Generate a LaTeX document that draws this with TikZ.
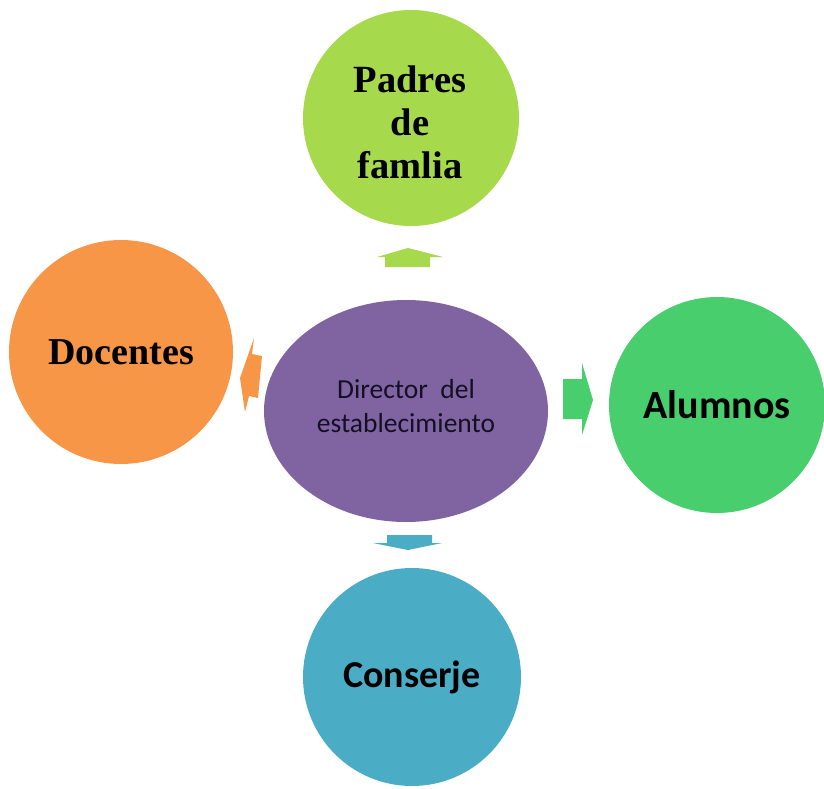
\documentclass[tikz,border=0pt]{standalone}
\usepackage{fontspec}
\setmainfont{Liberation Serif}
\newfontfamily\calib{Carlito}
\usetikzlibrary{shapes.geometric}
\definecolor{cPad}{RGB}{166,217,76}
\definecolor{cDoc}{RGB}{247,150,70}
\definecolor{cDir}{RGB}{128,100,162}
\definecolor{cAlu}{RGB}{72,206,108}
\definecolor{cCon}{RGB}{75,172,198}
\definecolor{cTxt}{RGB}{20,15,35}
\tikzset{
  bubble/.style={circle, inner sep=0pt, align=center},
  serifbold/.style={font=\fontsize{38.5}{43}\selectfont\bfseries},
  sansbold/.style={font=\calib\fontsize{40}{46}\selectfont\bfseries},
}
\begin{document}
\begin{tikzpicture}[x=1pt,y=-1pt]
\useasboundingbox (0,0) rectangle (824,789);
\node[bubble, fill=cPad, minimum size=216pt] (padres) at (411,118) {};
\node[align=center, inner sep=0pt, serifbold] (padrestxt) at (410,122) {Padres\\de\\famlia};
\node[bubble, fill=cDoc, minimum size=224pt, serifbold, font=\fontsize{38}{43}\selectfont\bfseries] (docentes) at (121,352) {Docentes};
\node[ellipse, inner sep=0pt, fill=cDir, minimum width=284pt, minimum height=222pt] (director) at (406,411) {};
\node[align=center, inner sep=0pt, text=cTxt, font=\calib\fontsize{27.5}{34}\selectfont] (directortxt) at (406,406) {Director\ \ del\\establecimiento};
\node[bubble, fill=cAlu, minimum size=216pt, sansbold] (alumnos) at (717,405) {Alumnos};
\node[bubble, fill=cCon, minimum size=218pt, sansbold, font=\calib\fontsize{38}{44}\selectfont\bfseries] (conserje) at (412,677) {Conserje};
% block arrows
\fill[cPad] (385,267) -- (385,257) -- (377,257) -- (408,248) -- (443,257) -- (430,257) -- (430,267) -- cycle;
\fill[cAlu] (563,379) -- (582,379) -- (582,363) -- (593,400) -- (582,435) -- (582,419) -- (563,419) -- cycle;
\fill[cCon] (387,535) -- (432,535) -- (432,543) -- (442,543) -- (408,550) -- (373,543) -- (387,543) -- cycle;
\fill[cDoc] (262,356) -- (252,354) -- (254,338) -- (240,378) -- (245,412) -- (249,396) -- (258,398) -- cycle;
\end{tikzpicture}
\end{document}
